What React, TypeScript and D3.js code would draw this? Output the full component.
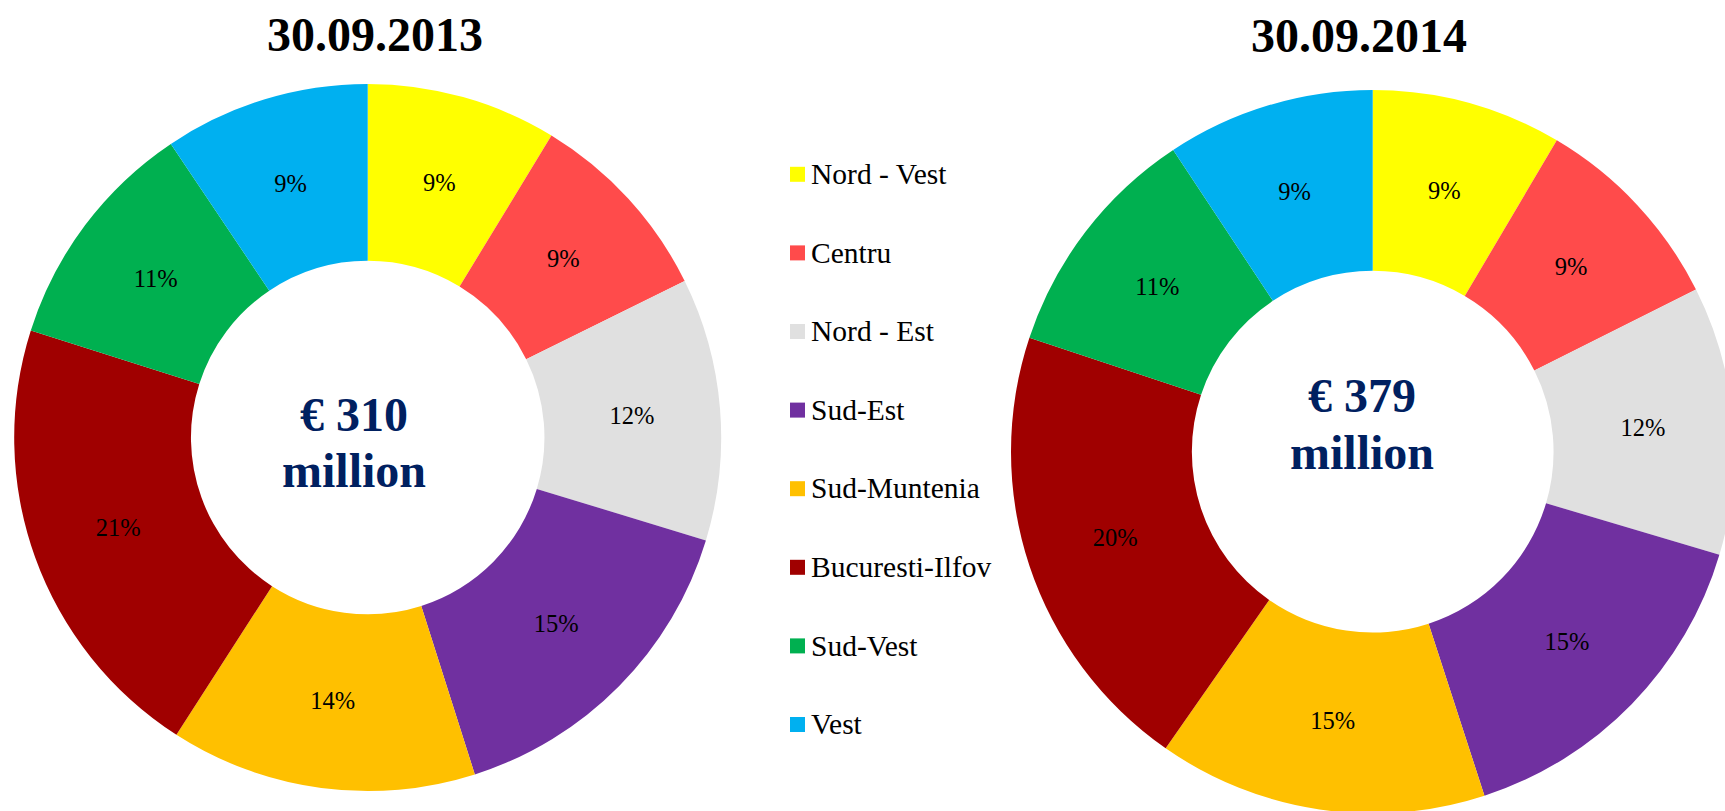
import * as d3 from "d3";
import { useEffect, useRef } from "react";

// regions, clockwise from 12 o'clock
const regions = ["Nord - Vest", "Centru", "Nord - Est", "Sud-Est", "Sud-Muntenia", "Bucuresti-Ilfov", "Sud-Vest", "Vest"];
const colors = ["#FFFF00", "#FF4B4B", "#E0E0E0", "#7030A0", "#FFC000", "#A00000", "#00B050", "#00B0F0"];

// shares in %
const shares2013 = [8.7, 9.0, 12.0, 15.4, 14.0, 20.8, 10.7, 9.4];
const shares2014 = [8.5, 9.1, 12.0, 15.4, 14.7, 20.4, 10.6, 9.3];

const titles = ["30.09.2013", "30.09.2014"];
const totals = ["€ 310", "€ 379"];

const W = 1725;
const H = 811;
const FONT = "'Liberation Serif', 'Times New Roman', serif";

export default function App() {
    const ref = useRef<SVGSVGElement>(null);

    useEffect(() => {
        const svg = d3.select(ref.current);
        svg.selectAll("*").remove();

        const charts = [
            { data: shares2013, cx: 367.7, cy: 437.5, r: 353.5, title: titles[0], tx: 375, ty: 51, total: totals[0], lx: 354, ly1: 431, ly2: 487 },
            { data: shares2014, cx: 1372.7, cy: 451.7, r: 361.7, title: titles[1], tx: 1359, ty: 52, total: totals[1], lx: 1362, ly1: 412, ly2: 469 },
        ];

        const pie = d3.pie<number>().sort(null).value(d => d);

        charts.forEach(c => {
            const arc = d3.arc<d3.PieArcDatum<number>>().innerRadius(c.r * 0.5).outerRadius(c.r);
            const g = svg.append("g").attr("transform", "translate(" + c.cx + "," + c.cy + ")");
            const arcs = pie(c.data);

            g.selectAll("path").data(arcs).enter().append("path")
                .attr("d", arc)
                .attr("fill", (d, i) => colors[i]);

            g.selectAll("text.pct").data(arcs).enter().append("text")
                .attr("class", "pct")
                .attr("x", d => arc.centroid(d)[0])
                .attr("y", d => arc.centroid(d)[1])
                .attr("dy", "0.35em")
                .attr("text-anchor", "middle")
                .style("font-family", FONT)
                .style("font-size", "24.5px")
                .style("fill", "#000")
                .text(d => Math.round(d.data) + "%");

            svg.append("text")
                .attr("x", c.tx).attr("y", c.ty)
                .attr("text-anchor", "middle")
                .style("font-family", FONT)
                .style("font-size", "48px")
                .style("font-weight", "bold")
                .style("fill", "#000")
                .text(c.title);

            svg.append("text")
                .attr("x", c.lx).attr("y", c.ly1)
                .attr("text-anchor", "middle")
                .style("font-family", FONT)
                .style("font-size", "48px")
                .style("font-weight", "bold")
                .style("fill", "#002060")
                .text(c.total);
            svg.append("text")
                .attr("x", c.lx).attr("y", c.ly2)
                .attr("text-anchor", "middle")
                .style("font-family", FONT)
                .style("font-size", "48px")
                .style("font-weight", "bold")
                .style("fill", "#002060")
                .text("million");
        });

        // legend
        const ly = d3.scaleBand().domain(regions).range([135, 135 + 8 * 78.6]);
        const leg = svg.append("g");
        leg.selectAll("rect").data(regions).enter().append("rect")
            .attr("x", 790)
            .attr("y", d => ly(d)! + ly.bandwidth() / 2 - 7.5)
            .attr("width", 15)
            .attr("height", 15)
            .attr("fill", (d, i) => colors[i]);
        leg.selectAll("text").data(regions).enter().append("text")
            .attr("x", 811)
            .attr("y", d => ly(d)! + ly.bandwidth() / 2)
            .attr("dy", "0.33em")
            .style("font-family", FONT)
            .style("font-size", "29.5px")
            .style("fill", "#000")
            .text(d => d);
    }, []);

    return (
        <div style={{ position: "absolute", left: 0, top: 0, width: W, height: H, overflow: "hidden", background: "#fff" }}>
            <svg ref={ref} width={W} height={H}></svg>
        </div>
    );
}
